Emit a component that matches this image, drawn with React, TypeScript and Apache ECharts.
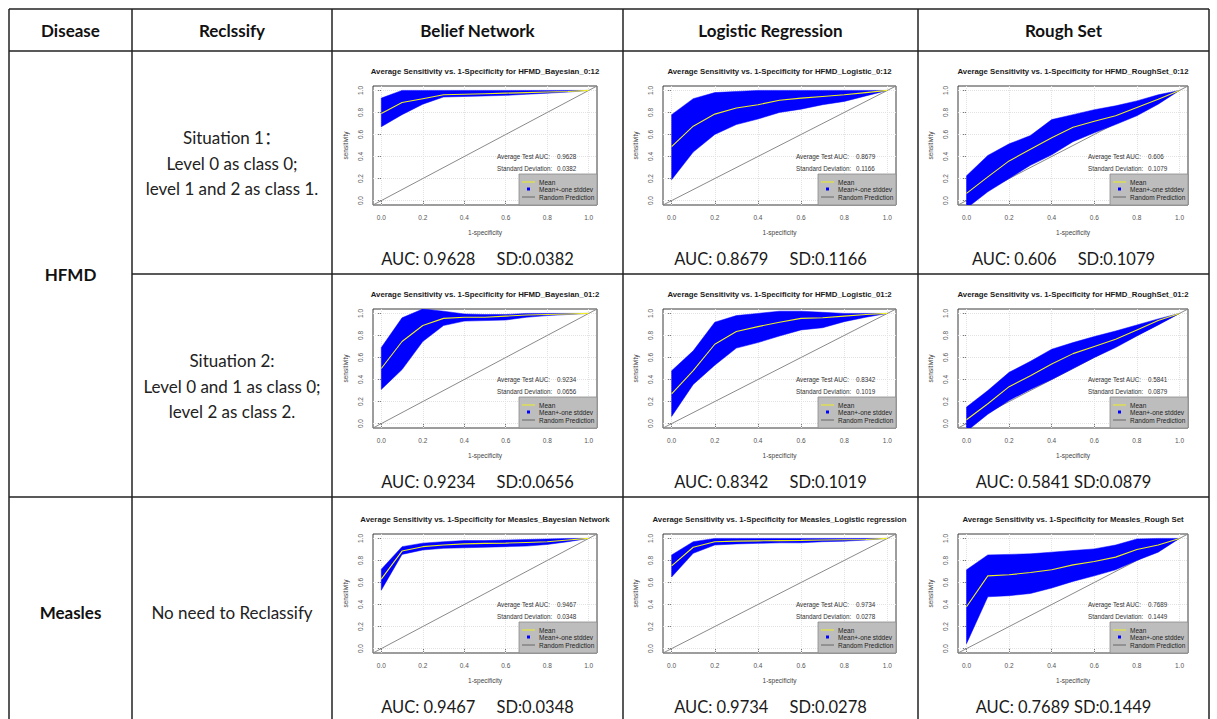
import React, { useEffect, useRef } from "react";
import * as echarts from "echarts";

// ---------- data ----------
const fpr = [0, 0.1, 0.2, 0.3, 0.4, 0.5, 0.6, 0.7, 0.8, 0.9, 1.0];
const axisTicks = [0, 0.2, 0.4, 0.6, 0.8, 1.0];
const randomLine = [[-0.04, -0.04], [1.04, 1.04]];

const hfmdBayes012Mean = [0.79, 0.89, 0.925, 0.96, 0.965, 0.97, 0.975, 0.98, 0.985, 0.99, 1.0];
const hfmdBayes012Upper = [0.93, 1.0, 1.0, 1.0, 1.0, 1.0, 1.0, 1.0, 1.0, 1.0, 1.0];
const hfmdBayes012Lower = [0.67, 0.78, 0.875, 0.94, 0.945, 0.95, 0.955, 0.965, 0.975, 0.985, 1.0];

const hfmdLogit012Mean = [0.49, 0.675, 0.785, 0.84, 0.87, 0.91, 0.93, 0.945, 0.96, 0.98, 1.0];
const hfmdLogit012Upper = [0.78, 0.925, 0.98, 0.99, 1.0, 1.0, 1.0, 1.0, 1.0, 1.0, 1.0];
const hfmdLogit012Lower = [0.19, 0.44, 0.6, 0.69, 0.74, 0.8, 0.83, 0.87, 0.9, 0.95, 1.0];

const hfmdRough012Mean = [0.066, 0.215, 0.36, 0.465, 0.57, 0.665, 0.72, 0.77, 0.845, 0.92, 1.0];
const hfmdRough012Upper = [0.225, 0.41, 0.515, 0.59, 0.735, 0.78, 0.825, 0.86, 0.905, 0.96, 1.0];
const hfmdRough012Lower = [-0.07, 0.08, 0.2, 0.32, 0.415, 0.535, 0.615, 0.69, 0.77, 0.875, 1.0];

const hfmdBayes012bMean = [0.5, 0.745, 0.89, 0.955, 0.965, 0.965, 0.975, 0.985, 0.99, 0.995, 1.0];
const hfmdBayes012bUpper = [0.69, 0.96, 1.04, 1.02, 0.995, 0.99, 0.99, 1.0, 1.0, 1.0, 1.0];
const hfmdBayes012bLower = [0.31, 0.49, 0.745, 0.89, 0.93, 0.935, 0.94, 0.965, 0.98, 0.99, 1.0];

const hfmdLogit012bMean = [0.27, 0.48, 0.72, 0.835, 0.88, 0.92, 0.955, 0.96, 0.975, 0.99, 1.0];
const hfmdLogit012bUpper = [0.48, 0.66, 0.92, 0.98, 1.0, 1.02, 1.02, 1.01, 1.0, 1.0, 1.0];
const hfmdLogit012bLower = [0.065, 0.355, 0.53, 0.685, 0.735, 0.795, 0.85, 0.87, 0.925, 0.965, 1.0];

const hfmdRough012bMean = [0.035, 0.18, 0.335, 0.435, 0.54, 0.635, 0.7, 0.765, 0.85, 0.935, 1.0];
const hfmdRough012bUpper = [0.15, 0.3, 0.465, 0.565, 0.675, 0.735, 0.79, 0.84, 0.895, 0.95, 1.0];
const hfmdRough012bLower = [-0.07, 0.085, 0.21, 0.31, 0.4, 0.5, 0.6, 0.69, 0.795, 0.895, 1.0];

const measlesBayesMean = [0.63, 0.885, 0.925, 0.94, 0.95, 0.955, 0.957, 0.963, 0.97, 0.985, 1.0];
const measlesBayesUpper = [0.72, 0.925, 0.957, 0.97, 0.98, 0.98, 0.985, 0.99, 0.995, 1.0, 1.0];
const measlesBayesLower = [0.53, 0.855, 0.895, 0.91, 0.915, 0.92, 0.925, 0.93, 0.945, 0.97, 1.0];

const measlesLogitMean = [0.75, 0.92, 0.97, 0.975, 0.978, 0.98, 0.982, 0.985, 0.988, 0.99, 1.0];
const measlesLogitUpper = [0.85, 0.97, 1.0, 1.0, 1.0, 1.0, 1.0, 1.0, 1.0, 1.0, 1.0];
const measlesLogitLower = [0.65, 0.865, 0.94, 0.95, 0.955, 0.96, 0.96, 0.97, 0.975, 0.985, 1.0];

const measlesRoughMean = [0.38, 0.66, 0.67, 0.69, 0.715, 0.76, 0.79, 0.83, 0.9, 0.94, 1.0];
const measlesRoughUpper = [0.715, 0.85, 0.855, 0.86, 0.875, 0.89, 0.905, 0.94, 0.995, 1.0, 1.0];
const measlesRoughLower = [0.045, 0.47, 0.48, 0.5, 0.55, 0.61, 0.66, 0.715, 0.8, 0.875, 1.0];

const chartTitles = [
  "Average Sensitivity vs. 1-Specificity for HFMD_Bayesian_0:12",
  "Average Sensitivity vs. 1-Specificity for HFMD_Logistic_0:12",
  "Average Sensitivity vs. 1-Specificity for HFMD_RoughSet_0:12",
  "Average Sensitivity vs. 1-Specificity for HFMD_Bayesian_01:2",
  "Average Sensitivity vs. 1-Specificity for HFMD_Logistic_01:2",
  "Average Sensitivity vs. 1-Specificity for HFMD_RoughSet_01:2",
  "Average Sensitivity vs. 1-Specificity for Measles_Bayesian Network",
  "Average Sensitivity vs. 1-Specificity for Measles_Logistic regression",
  "Average Sensitivity vs. 1-Specificity for Measles_Rough Set",
];
const aucValues = ["0.9628", "0.8679", "0.606", "0.9234", "0.8342", "0.5841", "0.9467", "0.9734", "0.7689"];
const sdValues = ["0.0382", "0.1166", "0.1079", "0.0656", "0.1019", "0.0879", "0.0348", "0.0278", "0.1449"];
const wideGap = [true, true, true, true, true, false, true, true, false];

const meanSets = [hfmdBayes012Mean, hfmdLogit012Mean, hfmdRough012Mean, hfmdBayes012bMean, hfmdLogit012bMean, hfmdRough012bMean, measlesBayesMean, measlesLogitMean, measlesRoughMean];
const upperSets = [hfmdBayes012Upper, hfmdLogit012Upper, hfmdRough012Upper, hfmdBayes012bUpper, hfmdLogit012bUpper, hfmdRough012bUpper, measlesBayesUpper, measlesLogitUpper, measlesRoughUpper];
const lowerSets = [hfmdBayes012Lower, hfmdLogit012Lower, hfmdRough012Lower, hfmdBayes012bLower, hfmdLogit012bLower, hfmdRough012bLower, measlesBayesLower, measlesLogitLower, measlesRoughLower];

const headers = ["Disease", "Reclssify", "Belief Network", "Logistic Regression", "Rough Set"];
const diseases = ["HFMD", "Measles"];
const situationLines = [
  ["Situation 1：", "Level 0 as class 0;", "level 1 and 2 as class 1."],
  ["Situation 2:", "Level 0 and 1 as class 0;", "level 2 as class 2."],
  ["No need to Reclassify"],
];

// ---------- layout ----------
const W = 1217;
const H = 719;
const colX = [9, 132, 332, 623, 918, 1209];
const rowY = [9, 51, 274, 497, 719];
const plotLeftOff = [41, 40, 40];
const plotWidths = [224, 233, 230];
const plotTopOff = [35, 35, 37];
const plotH = 119;
const RFONT = "'Liberation Sans', Arial, sans-serif";
const TFONT = "Lato, 'Noto Sans CJK SC', sans-serif";
const BLUE = "#0000ff";
const YELLOW = "#eeee22";

export default function App() {
  const ref = useRef<HTMLDivElement>(null);
  useEffect(() => {
    if (!ref.current) return;
    const chart = echarts.init(ref.current, null, { renderer: "svg", width: W, height: H });

    const grids: any[] = [];
    const xAxes: any[] = [];
    const yAxes: any[] = [];
    const series: any[] = [];
    const gfx: any[] = [];

    const line = (x1: number, y1: number, x2: number, y2: number, color = "#222", w = 1.5) => ({
      type: "line",
      z: 100,
      shape: { x1, y1, x2, y2 },
      style: { stroke: color, lineWidth: w },
      silent: true,
    });
    const text = (t: string, x: number, y: number, size: number, opts: any = {}) => ({
      type: "text",
      z: 100,
      x,
      y,
      silent: true,
      style: {
        text: t,
        fontSize: size,
        fontFamily: opts.family || TFONT,
        fontWeight: opts.weight || "normal",
        fill: opts.fill || "#111",
        align: opts.align || "center",
        verticalAlign: "middle",
      },
    });

    // table lines
    gfx.push(line(colX[0], rowY[0], colX[5], rowY[0]));
    gfx.push(line(colX[0], rowY[1], colX[5], rowY[1]));
    gfx.push(line(colX[1], rowY[2], colX[5], rowY[2]));
    gfx.push(line(colX[0], rowY[3], colX[5], rowY[3]));
    colX.forEach((x) => gfx.push(line(x, rowY[0], x, H)));

    // header texts
    headers.forEach((h, i) => {
      gfx.push(text(h, (colX[i] + colX[i + 1]) / 2, (rowY[0] + rowY[1]) / 2, 17, { weight: "bold" }));
    });
    gfx.push(text(diseases[0], (colX[0] + colX[1]) / 2, rowY[2], 17, { weight: "bold" }));
    gfx.push(text(diseases[1], (colX[0] + colX[1]) / 2, 612, 17, { weight: "bold" }));
    const situCenters = [163, 386, 612];
    situationLines.forEach((lines, r) => {
      const n = lines.length;
      lines.forEach((l, k) => {
        gfx.push(text(l, (colX[1] + colX[2]) / 2, situCenters[r] + (k - (n - 1) / 2) * 25.5, 17, { fill: "#222" }));
      });
    });

    for (let i = 0; i < 9; i++) {
      const r = Math.floor(i / 3);
      const c = i % 3;
      const left = colX[2 + c] + plotLeftOff[c];
      const width = plotWidths[c];
      const top = rowY[1 + r] + plotTopOff[r];
      const right = left + width;
      const bottom = top + plotH;
      const cellCenter = (colX[2 + c] + colX[3 + c]) / 2;

      grids.push({ left, top, width, height: plotH, show: true, borderColor: "#3a3a3a", borderWidth: 1, backgroundColor: "transparent" });
      xAxes.push({
        type: "value",
        gridIndex: i,
        min: -0.04,
        max: 1.04,
        name: "1-specificity",
        nameLocation: "middle",
        nameGap: 24,
        nameTextStyle: { fontSize: 6.5, color: "#444", fontFamily: RFONT },
        axisLine: { show: false },
        axisTick: { show: true, customValues: axisTicks, length: 4, lineStyle: { color: "#555", width: 0.8 } },
        axisLabel: { customValues: axisTicks, formatter: (v: number) => v.toFixed(1), fontSize: 6.5, color: "#555", fontFamily: RFONT, margin: 9 },
        splitLine: { show: false },
      });
      yAxes.push({
        type: "value",
        gridIndex: i,
        min: -0.04,
        max: 1.04,
        name: "sensitivity",
        nameLocation: "middle",
        nameGap: 24,
        nameTextStyle: { fontSize: 6.5, color: "#444", fontFamily: RFONT },
        axisLine: { show: false },
        axisTick: { show: true, customValues: axisTicks, length: 4, lineStyle: { color: "#555", width: 0.8 } },
        axisLabel: { customValues: axisTicks, formatter: (v: number) => v.toFixed(1), rotate: 90, fontSize: 6.5, color: "#555", fontFamily: RFONT, margin: 9 },
        splitLine: { show: false },
      });

      const lower = lowerSets[i];
      const upper = upperSets[i];
      const mean = meanSets[i];
      series.push({
        type: "line",
        name: "Random Prediction",
        xAxisIndex: i,
        yAxisIndex: i,
        data: randomLine,
        symbol: "none",
        z: 2,
        lineStyle: { color: "#8a8a8a", width: 1 },
        markLine: {
          silent: true,
          z: 1,
          symbol: "none",
          label: { show: false },
          lineStyle: { color: "#e2e2e2", type: "dotted", width: 1 },
          data: [...axisTicks.map((v) => ({ xAxis: v })), ...axisTicks.map((v) => ({ yAxis: v }))],
        },
      });
      series.push({
        type: "custom",
        name: "Mean+-one stddev",
        xAxisIndex: i,
        yAxisIndex: i,
        clip: true,
        z: 3,
        data: fpr.map((x, j) => [x, lower[j], upper[j]]),
        encode: { x: 0, y: [1, 2] },
        renderItem: (params: any, api: any) => {
          if (params.dataIndexInside !== 0) return null;
          const n = params.dataInsideLength;
          const top: number[][] = [];
          const bot: number[][] = [];
          for (let k = 0; k < n; k++) {
            const xv = api.value(0, k);
            top.push(api.coord([xv, api.value(2, k)]));
            bot.push(api.coord([xv, api.value(1, k)]));
          }
          return {
            type: "polygon",
            shape: { points: top.concat(bot.reverse()) },
            style: { fill: BLUE, stroke: BLUE, lineWidth: 0.5 },
          };
        },
      });
      series.push({
        type: "line",
        name: "Mean",
        xAxisIndex: i,
        yAxisIndex: i,
        data: fpr.map((x, j) => [x, mean[j]]),
        symbol: "none",
        z: 4,
        lineStyle: { color: YELLOW, width: 1.1 },
      });

      // title
      gfx.push(text(chartTitles[i], (left + right) / 2, top - 15, 7.8, { family: RFONT, weight: "bold", fill: "#1a1a1a" }));
      // annotations
      gfx.push(text("Average Test AUC:", right - 100, bottom - 49, 6.3, { family: RFONT, fill: "#333", align: "left" }));
      gfx.push(text(aucValues[i], right - 40, bottom - 49, 6.3, { family: RFONT, fill: "#333", align: "left" }));
      gfx.push(text("Standard Deviation:", right - 100, bottom - 37, 6.3, { family: RFONT, fill: "#333", align: "left" }));
      gfx.push(text(sdValues[i], right - 40, bottom - 37, 6.3, { family: RFONT, fill: "#333", align: "left" }));
      // legend box
      gfx.push({
        type: "rect",
        z: 100,
        silent: true,
        shape: { x: right - 78, y: bottom - 31, width: 78, height: 31 },
        style: { fill: "#bdbdbd", stroke: "#8a8a8a", lineWidth: 0.8 },
      });
      gfx.push(line(right - 75, bottom - 23, right - 62, bottom - 23, YELLOW, 1));
      gfx.push({
        type: "rect",
        z: 101,
        silent: true,
        shape: { x: right - 70, y: bottom - 17.5, width: 3, height: 3 },
        style: { fill: BLUE },
      });
      gfx.push(line(right - 75, bottom - 8, right - 62, bottom - 8, "#666", 1));
      gfx.push(text("Mean", right - 58, bottom - 23, 6.5, { family: RFONT, fill: "#222", align: "left" }));
      gfx.push(text("Mean+-one stddev", right - 58, bottom - 16, 6.5, { family: RFONT, fill: "#222", align: "left" }));
      gfx.push(text("Random Prediction", right - 58, bottom - 8, 6.5, { family: RFONT, fill: "#222", align: "left" }));
      // bottom AUC/SD text
      const gap = wideGap[i] ? "\u00A0\u00A0\u00A0\u00A0\u00A0" : " ";
      gfx.push(text("AUC: " + aucValues[i] + gap + "SD:" + sdValues[i], cellCenter, bottom + 54, 16.5, { fill: "#1a1a1a" }));
    }

    chart.setOption({
      animation: false,
      backgroundColor: "#ffffff",
      grid: grids,
      xAxis: xAxes,
      yAxis: yAxes,
      series,
      graphic: { elements: gfx },
    });
    return () => chart.dispose();
  }, []);
  return <div ref={ref} style={{ position: "absolute", left: 0, top: 0, width: W, height: H }} />;
}
